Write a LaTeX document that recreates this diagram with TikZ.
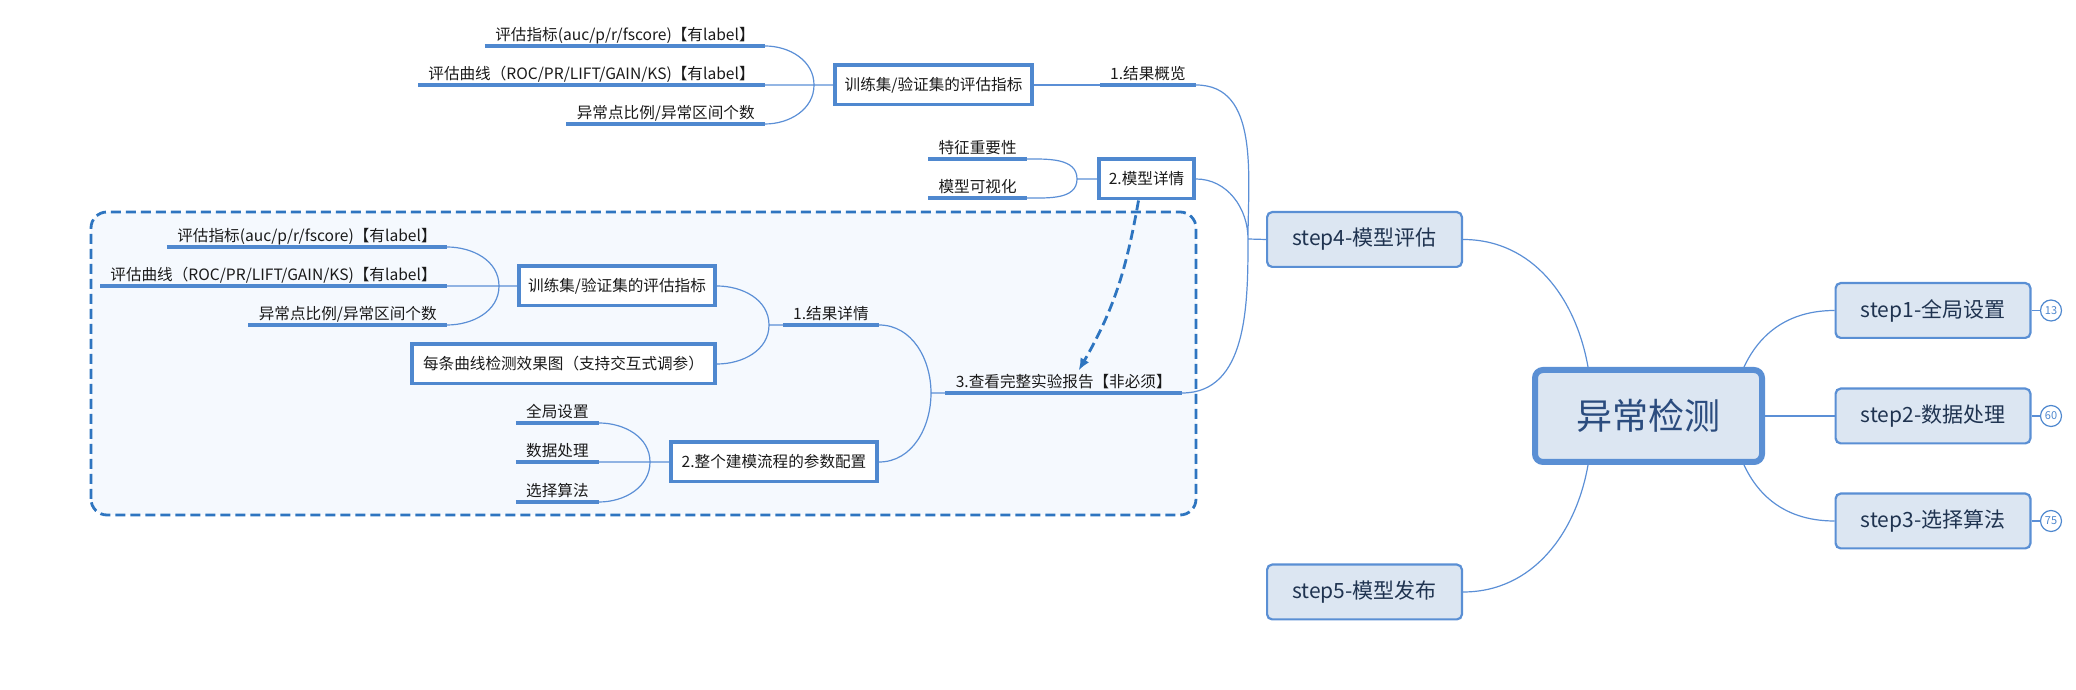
\documentclass[tikz,border=0pt]{standalone}
\usepackage{fontspec}
\setmainfont{Noto Sans CJK SC}
\usetikzlibrary{arrows.meta,calc}

\definecolor{linkblue}{HTML}{5B8FD6}
\definecolor{barblue}{HTML}{4F88CF}
\definecolor{stepfill}{HTML}{DCE6F2}
\definecolor{stepline}{HTML}{5A8FD4}
\definecolor{maintext}{HTML}{2B4C7E}
\definecolor{steptext}{HTML}{1F3350}
\definecolor{leaftext}{HTML}{1A1A1A}
\definecolor{groupline}{HTML}{2E75C0}
\definecolor{groupfill}{HTML}{F5F9FE}

\begin{document}
\begin{tikzpicture}[x=0.5pt, y=0.5pt,
  link/.style={linkblue, line width=0.6pt},
  underbar/.style={barblue, line width=1.8pt},
  leaf/.style={anchor=south east, inner xsep=5pt, inner ysep=1.2pt, text height=7pt, text depth=1.5pt,
    text=leaftext, font=\fontsize{7.8}{9}\selectfont,
    append after command={(\tikzlastnode.south west) edge[underbar] (\tikzlastnode.south east)}},
  framebox/.style={draw=barblue, line width=1.8pt, fill=white, text=leaftext,
    font=\fontsize{7.8}{9}\selectfont, minimum height=19.7pt, inner sep=0pt},
  stepbox/.style={draw=stepline, line width=1.1pt, fill=stepfill, rounded corners=2.5pt, text=steptext,
    font=\fontsize{10.5}{12}\selectfont, minimum width=97.4pt, minimum height=27.4pt},
  badge/.style={circle, draw=barblue, line width=0.6pt, fill=white, text=barblue, inner sep=0pt,
    minimum size=10.5pt, font=\fontsize{5.5}{6}\selectfont},
]
\useasboundingbox (0,0) rectangle (2076,690);

% Central topic
\node[draw=stepline, line width=3pt, fill=stepfill, rounded corners=4pt, text=maintext,
  font=\fontsize{18}{20}\selectfont, minimum width=113.5pt, minimum height=46pt] (main) at (1648.5,274) {异常检测};

% Steps on the right, with counters
\foreach \n/\y/\lab/\cnt in {1/379.5/全局设置/13, 2/274/数据处理/60, 3/169/选择算法/75} {
  \node[stepbox] (s\n) at (1933,\y) {step\n-\lab};
  \node[badge] (b\n) at (2051,\y) {\cnt};
  \draw[link] (s\n.east) -- (b\n.west);
}
\draw[link] ($(main.north east)+(-21,0)$) to[out=65,in=180] (s1.west);
\draw[link] (main.east) -- (s2.west);
\draw[link] ($(main.south east)+(-21,0)$) to[out=-65,in=180] (s3.west);

% Steps on the left
\node[stepbox] (s4) at (1364.5,450.5) {step4-模型评估};
\node[stepbox] (s5) at (1364.5,98) {step5-模型发布};
\draw[link] ($(main.north west)+(56,0)$) to[out=100,in=0] (s4.east);
\draw[link] ($(main.south west)+(56,0)$) to[out=-100,in=0] (s5.east);

% Result overview
\node[framebox, minimum width=98.7pt] (boxA) at (933.5,605) {训练集/验证集的评估指标};
\node[leaf] (t1) at (765,644) {评估指标(auc/p/r/fscore)【有label】};
\node[leaf] (t2) at (765,605) {评估曲线（ROC/PR/LIFT/GAIN/KS)【有label】};
\node[leaf] (t3) at (765,566) {异常点比例/异常区间个数};
\node[leaf] (t4) at (1196,605) {1.结果概览};
\coordinate (jA) at (814,605);
\draw[link] (boxA.west) -- (jA) (jA) to[out=90,in=0] (t1.south east)
  (jA) -- (t2.south east) (jA) to[out=-90,in=0] (t3.south east);
\draw[link] (boxA.east) -- (t4.south west);

% Model details
\node[framebox, minimum width=47.7pt] (boxB) at (1146.5,511) {2.模型详情};
\node[leaf] (t5) at (1027,531) {特征重要性};
\node[leaf] (t6) at (1027,492) {模型可视化};
\coordinate (jB) at (1077,511);
\draw[link] (boxB.west) -- (jB) (jB) to[out=90,in=0] (t5.south east)
  (jB) to[out=-90,in=0] (t6.south east);

% Full report group
\draw[groupline, fill=groupfill, line width=1.4pt, dash pattern=on 5pt off 2.5pt, rounded corners=8pt]
  (91,175) rectangle (1196,478);

\node[framebox, minimum width=98.2pt] (boxC) at (617,404) {训练集/验证集的评估指标};
\node[leaf] (d1) at (447,443) {评估指标(auc/p/r/fscore)【有label】};
\node[leaf] (d2) at (447,404) {评估曲线（ROC/PR/LIFT/GAIN/KS)【有label】};
\node[leaf] (d3) at (447,365) {异常点比例/异常区间个数};
\coordinate (jC) at (499,404);
\draw[link] (boxC.west) -- (jC) (jC) to[out=90,in=0] (d1.south east)
  (jC) -- (d2.south east) (jC) to[out=-90,in=0] (d3.south east);

\node[framebox, minimum width=151.7pt] (boxD) at (563.5,326) {每条曲线检测效果图（支持交互式调参）};
\node[leaf] (t7) at (879,365) {1.结果详情};
\coordinate (j7) at (769,365);
\draw[link] (t7.south west) -- (j7) (j7) to[out=90,in=0] (boxC.east)
  (j7) to[out=-90,in=0] (boxD.east);

\node[framebox, minimum width=103.2pt] (boxE) at (774,228) {2.整个建模流程的参数配置};
\node[leaf] (e1) at (599,267) {全局设置};
\node[leaf] (e2) at (599,228) {数据处理};
\node[leaf] (e3) at (599,188) {选择算法};
\coordinate (jE) at (650,228);
\draw[link] (boxE.west) -- (jE) (jE) to[out=90,in=0] (e1.south east)
  (jE) -- (e2.south east) (jE) to[out=-90,in=0] (e3.south east);

\node[leaf] (t8) at (1182,297) {3.查看完整实验报告【非必须】};
\coordinate (j8) at (931,297);
\draw[link] (t8.south west) -- (j8) (j8) to[out=90,in=0] (t7.south east)
  (j8) to[out=-90,in=0] (boxE.east);

% Branches of step4
\coordinate (j4) at (1248,451);
\draw[link] (s4.west) -- (j4) (j4) to[out=90,in=0] (t4.south east)
  (j4) to[out=90,in=0] (boxB.east) (j4) to[out=-90,in=0] (t8.south east);

% Link from model details to full report
\draw[groupline, line width=1.4pt, dash pattern=on 5pt off 2.5pt, -{Latex[length=6pt,width=5pt]}]
  ($(boxB.south)+(-8,0)$) to[out=-100,in=60] ($(t8.north)+(15,0)$);

\end{tikzpicture}
\end{document}
